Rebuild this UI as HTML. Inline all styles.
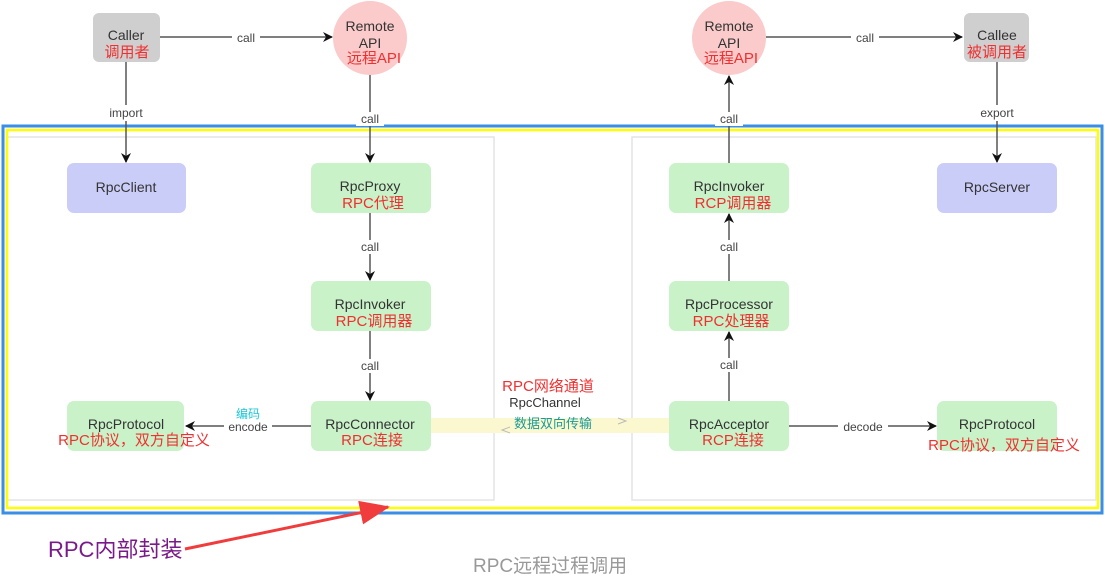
<!DOCTYPE html>
<html><head><meta charset="utf-8"><style>
html,body{margin:0;padding:0;background:#fff;}
svg{display:block;}
.b{font-family:"Liberation Sans",sans-serif;font-size:14px;fill:#333;text-anchor:middle;}
.l{font-family:"Liberation Sans",sans-serif;font-size:12px;fill:#444;text-anchor:middle;}
.r{font-family:"Liberation Sans","Noto Sans CJK SC",sans-serif;font-size:15px;fill:#f03030;text-anchor:middle;}
</style></head><body>
<svg width="1105" height="581" viewBox="0 0 1105 581" xmlns="http://www.w3.org/2000/svg">
<defs>
<marker id="a" markerWidth="10" markerHeight="10" refX="9" refY="5" orient="auto" markerUnits="userSpaceOnUse"><path d="M0,0 L10,5 L0,10 L3,5 z" fill="#111"/></marker>
<marker id="ra" markerWidth="30" markerHeight="24" refX="28" refY="12" orient="auto" markerUnits="userSpaceOnUse"><path d="M0,0 L30,12 L0,24 z" fill="#f03c3c"/></marker>
</defs>
<!-- panels -->
<rect x="7" y="137" width="487" height="363" fill="#fff" stroke="#e4e4e4" stroke-width="1.5"/>
<rect x="632" y="137" width="464" height="363" fill="#fff" stroke="#e4e4e4" stroke-width="1.5"/>
<!-- frames -->
<rect x="3" y="126" width="1099" height="387" fill="none" stroke="#3a8ee6" stroke-width="3"/>
<rect x="7" y="130" width="1091" height="378" fill="none" stroke="#ffff00" stroke-width="2.5"/>
<!-- channel -->
<rect x="429" y="418" width="240" height="15" fill="#fbf8cf"/>
<path d="M618,418 l8,3 l-8,3" fill="none" stroke="#bbb"/>
<path d="M510,427 l-8,3 l8,3" fill="none" stroke="#bbb"/>
<!-- connectors -->
<line x1="160" y1="37" x2="332" y2="37" stroke="#555" stroke-width="1.5" marker-end="url(#a)"/>
<rect x="232" y="30" width="28" height="14" fill="#fff"/><text class="l" x="246" y="42">call</text>
<line x1="126" y1="62" x2="126" y2="162" stroke="#555" stroke-width="1.5" marker-end="url(#a)"/>
<rect x="104" y="105" width="44" height="16" fill="#fff"/><text class="l" x="126" y="117">import</text>
<line x1="370" y1="75" x2="370" y2="162" stroke="#555" stroke-width="1.5" marker-end="url(#a)"/>
<rect x="356" y="112" width="28" height="14" fill="#fff"/><text class="l" x="370" y="123">call</text>
<line x1="370" y1="213" x2="370" y2="280" stroke="#555" stroke-width="1.5" marker-end="url(#a)"/>
<rect x="356" y="240" width="28" height="14" fill="#fff"/><text class="l" x="370" y="251">call</text>
<line x1="370" y1="331" x2="370" y2="400" stroke="#555" stroke-width="1.5" marker-end="url(#a)"/>
<rect x="356" y="359" width="28" height="14" fill="#fff"/><text class="l" x="370" y="370">call</text>
<line x1="311" y1="426" x2="186" y2="426" stroke="#555" stroke-width="1.5" marker-end="url(#a)"/>
<rect x="224" y="419" width="48" height="14" fill="#fff"/><text class="l" x="248" y="431">encode</text>
<line x1="729" y1="163" x2="729" y2="76" stroke="#555" stroke-width="1.5" marker-end="url(#a)"/>
<rect x="715" y="112" width="28" height="14" fill="#fff"/><text class="l" x="729" y="123">call</text>
<line x1="729" y1="281" x2="729" y2="214" stroke="#555" stroke-width="1.5" marker-end="url(#a)"/>
<rect x="715" y="240" width="28" height="14" fill="#fff"/><text class="l" x="729" y="251">call</text>
<line x1="729" y1="401" x2="729" y2="332" stroke="#555" stroke-width="1.5" marker-end="url(#a)"/>
<rect x="715" y="358" width="28" height="14" fill="#fff"/><text class="l" x="729" y="369">call</text>
<line x1="766" y1="37" x2="962" y2="37" stroke="#555" stroke-width="1.5" marker-end="url(#a)"/>
<rect x="851" y="30" width="28" height="14" fill="#fff"/><text class="l" x="865" y="42">call</text>
<line x1="997" y1="62" x2="997" y2="162" stroke="#555" stroke-width="1.5" marker-end="url(#a)"/>
<rect x="974" y="105" width="46" height="16" fill="#fff"/><text class="l" x="997" y="117">export</text>
<line x1="789" y1="426" x2="936" y2="426" stroke="#555" stroke-width="1.5" marker-end="url(#a)"/>
<rect x="838" y="419" width="50" height="14" fill="#fff"/><text class="l" x="863" y="431">decode</text>
<!-- nodes -->
<rect x="93" y="13" width="67" height="49" rx="6" fill="#cfcfcf"/>
<text class="b" x="126" y="40">Caller</text><text class="r" x="127" y="57">调用者</text>
<circle cx="370" cy="38" r="37" fill="#fbcaca"/>
<text class="b" x="370" y="31">Remote</text><text class="b" x="370" y="48">API</text><text class="r" x="374" y="63">远程API</text>
<circle cx="729" cy="38" r="37" fill="#fbcaca"/>
<text class="b" x="729" y="31">Remote</text><text class="b" x="729" y="48">API</text><text class="r" x="731" y="63">远程API</text>
<rect x="964" y="13" width="65" height="49" rx="6" fill="#cfcfcf"/>
<text class="b" x="997" y="40">Callee</text><text class="r" x="997" y="57">被调用者</text>
<rect x="67" y="163" width="119" height="50" rx="7" fill="#cbcdf9"/><text class="b" x="126" y="192">RpcClient</text>
<rect x="937" y="163" width="120" height="50" rx="7" fill="#cbcdf9"/><text class="b" x="997" y="192">RpcServer</text>
<rect x="311" y="163" width="120" height="50" rx="7" fill="#c9f2c9"/><text class="b" x="370" y="191">RpcProxy</text><text class="r" x="373" y="208">RPC代理</text>
<rect x="311" y="281" width="120" height="50" rx="7" fill="#c9f2c9"/><text class="b" x="370" y="309">RpcInvoker</text><text class="r" x="374" y="326">RPC调用器</text>
<rect x="311" y="401" width="120" height="50" rx="7" fill="#c9f2c9"/><text class="b" x="370" y="429">RpcConnector</text><text class="r" x="372" y="445">RPC连接</text>
<rect x="67" y="401" width="117" height="50" rx="7" fill="#c9f2c9"/><text class="b" x="126" y="429">RpcProtocol</text><text class="r" x="134" y="445">RPC协议，双方自定义</text>
<rect x="669" y="163" width="120" height="50" rx="7" fill="#c9f2c9"/><text class="b" x="729" y="191">RpcInvoker</text><text class="r" x="733" y="208">RCP调用器</text>
<rect x="669" y="281" width="120" height="50" rx="7" fill="#c9f2c9"/><text class="b" x="729" y="309">RpcProcessor</text><text class="r" x="731" y="326">RPC处理器</text>
<rect x="669" y="401" width="120" height="50" rx="7" fill="#c9f2c9"/><text class="b" x="729" y="429">RpcAcceptor</text><text class="r" x="733" y="445">RCP连接</text>
<rect x="937" y="401" width="120" height="50" rx="7" fill="#c9f2c9"/><text class="b" x="997" y="429">RpcProtocol</text><text class="r" x="1004" y="450">RPC协议，双方自定义</text>
<!-- channel labels -->
<text class="r" x="548" y="391">RPC网络通道</text>
<text class="b" x="545" y="407" style="font-size:13px">RpcChannel</text>
<text x="553" y="428" style="font-family:'Liberation Sans','Noto Sans CJK SC',sans-serif;font-size:13px;fill:#1a9a9a;text-anchor:middle">数据双向传输</text>
<text x="248" y="418" style="font-family:'Liberation Sans','Noto Sans CJK SC',sans-serif;font-size:12px;fill:#1cc6d8;text-anchor:middle">编码</text>
<!-- bottom -->
<line x1="185" y1="549" x2="388" y2="507" stroke="#f03c3c" stroke-width="3" marker-end="url(#ra)"/>
<text x="48" y="557" style="font-family:'Liberation Sans','Noto Sans CJK SC',sans-serif;font-size:22px;fill:#7a1a8a">RPC内部封装</text>
<text x="473" y="572" style="font-family:'Liberation Sans','Noto Sans CJK SC',sans-serif;font-size:19px;fill:#999">RPC远程过程调用</text>
</svg>
</body></html>
